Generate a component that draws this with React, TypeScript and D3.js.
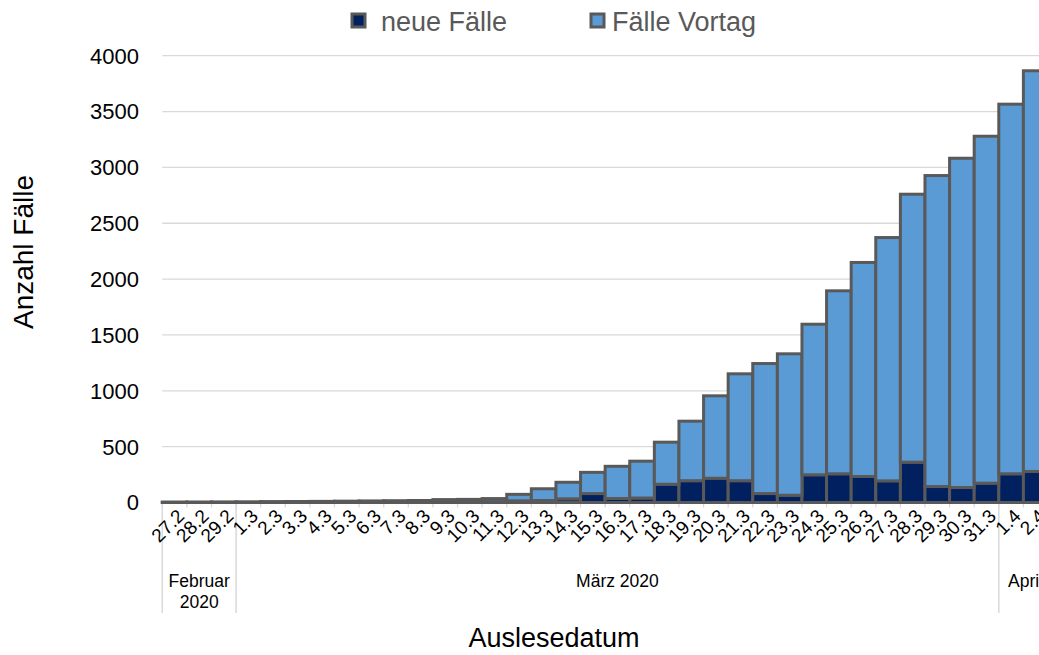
import React, { useEffect, useRef } from 'react';
import * as d3 from 'd3';

const dates = [
  '27.2', '28.2', '29.2',
  '1.3', '2.3', '3.3', '4.3', '5.3', '6.3', '7.3', '8.3', '9.3', '10.3',
  '11.3', '12.3', '13.3', '14.3', '15.3', '16.3', '17.3', '18.3', '19.3', '20.3',
  '21.3', '22.3', '23.3', '24.3', '25.3', '26.3', '27.3', '28.3', '29.3', '30.3', '31.3',
  '1.4', '2.4',
];
const neueFaelle = [
  2, 1, 1,
  1, 2, 1, 1, 2, 2, 2, 2, 8, 2,
  7, 15, 18, 33, 80, 36, 40, 163, 195, 217,
  195, 80, 65, 248, 257, 233, 194, 361, 143, 134, 173,
  257, 278,
];
const faelleVortag = [
  1, 3, 4,
  5, 6, 8, 9, 10, 12, 14, 16, 18, 26,
  28, 58, 105, 148, 190, 288, 330, 377, 533, 738,
  957, 1164, 1266, 1348, 1638, 1916, 2178, 2399, 2784, 2948, 3106,
  3309, 3587,
];
const yTicks = [0, 500, 1000, 1500, 2000, 2500, 3000, 3500, 4000];
const monthLabels = [['Februar', '2020'], ['März 2020'], ['April']];
const monthFirst = ['27.2', '1.3', '1.4'];
const monthLast = ['29.2', '31.3', '2.4'];
const seriesNames = ['neue Fälle', 'Fälle Vortag'];
const seriesColors = ['#002060', '#5b9bd5'];

const W = 1039;
const H = 655;
const FONT = '"Liberation Sans", Arial, sans-serif';

const App: React.FC = () => {
  const ref = useRef<SVGSVGElement | null>(null);

  useEffect(() => {
    const svg = d3.select(ref.current);
    svg.selectAll('*').remove();

    const table = dates.map((d, i) => ({ date: d, neu: neueFaelle[i], vortag: faelleVortag[i] }));
    const stacked = d3.stack<any>().keys(['neu', 'vortag'])(table);

    // the plot runs past the right edge of the picture, so the last bars are cut
    const x = d3.scaleBand<string>().domain(dates).range([162.3, 1048]).padding(0);
    const y = d3.scaleLinear().domain([0, 4000]).range([502.5, 55.7]);
    const base = y(0);

    // gridlines
    svg.append('g')
      .selectAll('line')
      .data(yTicks.filter(t => t > 0))
      .enter()
      .append('line')
      .attr('x1', 162.3)
      .attr('x2', W)
      .attr('y1', d => y(d))
      .attr('y2', d => y(d))
      .attr('stroke', '#d9d9d9')
      .attr('stroke-width', 1.3);

    // y tick labels
    svg.append('g')
      .selectAll('text')
      .data(yTicks)
      .enter()
      .append('text')
      .attr('x', 139)
      .attr('y', d => y(d))
      .attr('dy', '0.36em')
      .attr('text-anchor', 'end')
      .attr('font-family', FONT)
      .attr('font-size', 22)
      .attr('fill', '#000')
      .text(d => String(d));

    // x axis line and small ticks
    svg.append('line')
      .attr('x1', 162.3)
      .attr('x2', W)
      .attr('y1', base)
      .attr('y2', base)
      .attr('stroke', '#d9d9d9')
      .attr('stroke-width', 1.3);
    svg.append('g')
      .selectAll('line')
      .data(dates)
      .enter()
      .append('line')
      .attr('x1', d => x(d)!)
      .attr('x2', d => x(d)!)
      .attr('y1', base)
      .attr('y2', base + 5)
      .attr('stroke', '#d9d9d9')
      .attr('stroke-width', 1.3);

    // month group separators
    const sepX = [x(monthFirst[0])!, ...monthLast.map(d => x(d)! + x.bandwidth())];
    svg.append('g')
      .selectAll('line')
      .data(sepX)
      .enter()
      .append('line')
      .attr('x1', d => d)
      .attr('x2', d => d)
      .attr('y1', base)
      .attr('y2', 613)
      .attr('stroke', '#d9d9d9')
      .attr('stroke-width', 1.5);

    // bars
    svg.append('g')
      .selectAll('g')
      .data(stacked)
      .enter()
      .append('g')
      .attr('fill', (_, i) => seriesColors[i])
      .selectAll('rect')
      .data(d => d)
      .enter()
      .append('rect')
      .attr('x', d => x(d.data.date)!)
      .attr('width', x.bandwidth())
      .attr('y', d => y(d[1]))
      .attr('height', d => y(d[0]) - y(d[1]))
      .attr('stroke', '#595959')
      .attr('stroke-width', 3);

    // date labels
    svg.append('g')
      .selectAll('text')
      .data(dates)
      .enter()
      .append('text')
      .attr('transform', d => `translate(${x(d)! + x.bandwidth() / 2 + 6},${base + 10}) rotate(-45)`)
      .attr('dy', '0.36em')
      .attr('text-anchor', 'end')
      .attr('font-family', FONT)
      .attr('font-size', 19)
      .attr('fill', '#000')
      .text(d => d);

    // month labels
    monthLabels.forEach((lines, i) => {
      const cx = (x(monthFirst[i])! + x(monthLast[i])! + x.bandwidth()) / 2;
      const t = svg.append('text')
        .attr('text-anchor', i === 2 ? 'start' : 'middle')
        .attr('font-family', FONT)
        .attr('font-size', 17.5)
        .attr('fill', '#000');
      lines.forEach((line, j) => {
        t.append('tspan').attr('x', i === 2 ? 1008 : cx).attr('y', 587 + j * 21).text(line);
      });
    });

    // axis titles
    svg.append('text')
      .attr('x', 554)
      .attr('y', 647)
      .attr('text-anchor', 'middle')
      .attr('font-family', FONT)
      .attr('font-size', 27)
      .attr('fill', '#000')
      .text('Auslesedatum');
    svg.append('text')
      .attr('transform', 'translate(33,252) rotate(-90)')
      .attr('text-anchor', 'middle')
      .attr('font-family', FONT)
      .attr('font-size', 28)
      .attr('fill', '#000')
      .text('Anzahl Fälle');

    // legend
    const legendX = [352, 591];
    const legend = svg.append('g')
      .selectAll('g')
      .data(seriesNames)
      .enter()
      .append('g')
      .attr('transform', (_, i) => `translate(${legendX[i]},14)`);
    legend.append('rect')
      .attr('width', 13)
      .attr('height', 13)
      .attr('fill', (_, i) => seriesColors[i])
      .attr('stroke', '#595959')
      .attr('stroke-width', 3);
    legend.append('text')
      .attr('x', (_, i) => (i === 0 ? 29 : 21))
      .attr('y', 17)
      .attr('font-family', FONT)
      .attr('font-size', 27)
      .attr('fill', '#595959')
      .text(d => d);
  }, []);

  return (
    <svg
      ref={ref}
      width={W}
      height={H}
      style={{ position: 'absolute', left: 0, top: 0, background: '#fff' }}
    />
  );
};

export default App;
